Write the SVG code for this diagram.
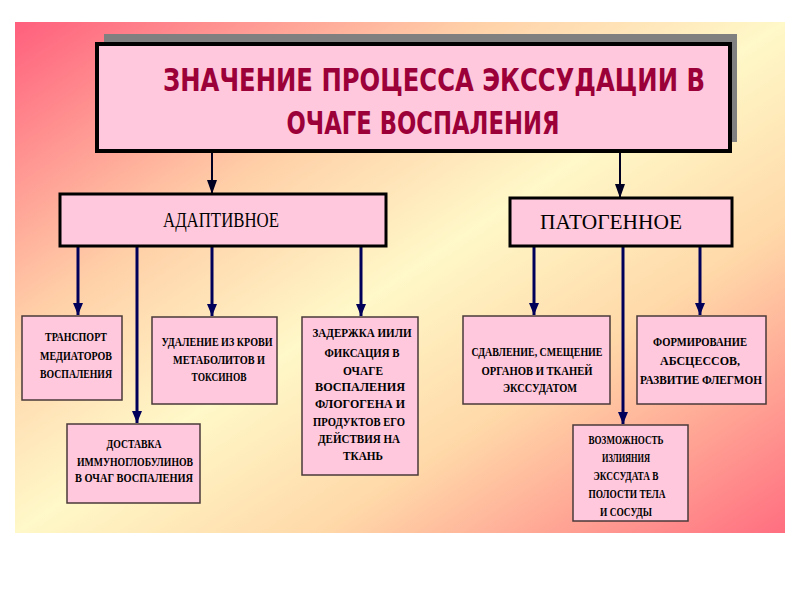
<svg xmlns="http://www.w3.org/2000/svg" width="800" height="600" viewBox="0 0 800 600">
<defs>
<linearGradient id="bg" x1="0" y1="0" x2="1" y2="1">
<stop offset="0" stop-color="#ff5f7d"/>
<stop offset="0.3" stop-color="#ffd0a8"/>
<stop offset="0.5" stop-color="#fff8c8"/>
<stop offset="0.7" stop-color="#ffd8a8"/>
<stop offset="1" stop-color="#ff6e80"/>
</linearGradient>
<marker id="ah" viewBox="0 0 14 10" refX="14" refY="5" markerWidth="14" markerHeight="10" markerUnits="userSpaceOnUse" orient="auto">
<path d="M0,0 L14,5 L0,10 Z" fill="#000022"/>
</marker>
<marker id="ah2" viewBox="0 0 12 10" refX="12" refY="5" markerWidth="12" markerHeight="10" markerUnits="userSpaceOnUse" orient="auto">
<path d="M0,0 L12,5 L0,10 Z" fill="#00005a"/>
</marker>
</defs>
<style>
.big{fill:#ffc8dc;stroke:#000;stroke-width:4}
.mid{fill:#ffc8dc;stroke:#000;stroke-width:3}
.box{fill:#ffc8dc;stroke:#4a3a3a;stroke-width:1.5}
.title{font-family:"DejaVu Sans Condensed","Liberation Sans",sans-serif;font-stretch:condensed;font-weight:bold;font-size:32px;fill:#9c0038;text-anchor:middle}
.cat{font-family:"Liberation Serif",serif;font-size:20px;fill:#000;text-anchor:middle}
.t{font-family:"Liberation Serif",serif;font-size:13px;font-weight:bold;fill:#000;text-anchor:middle}
.c1{stroke:#000022;stroke-width:2;fill:none}
.c2{stroke:#00005a;stroke-width:3;fill:none}
</style>
<rect x="15" y="22" width="770" height="511" fill="url(#bg)"/>

<g id="connectors">
<line class="c1" x1="212" y1="152" x2="212" y2="194" marker-end="url(#ah)"/>
<line class="c1" x1="620" y1="152" x2="620" y2="198" marker-end="url(#ah)"/>
<line class="c2" x1="78" y1="246" x2="78" y2="315" marker-end="url(#ah2)"/>
<line class="c2" x1="137" y1="246" x2="137" y2="423" marker-end="url(#ah2)"/>
<line class="c2" x1="212" y1="246" x2="212" y2="316" marker-end="url(#ah2)"/>
<line class="c2" x1="361" y1="246" x2="361" y2="316" marker-end="url(#ah2)"/>
<line class="c2" x1="534" y1="246" x2="534" y2="315" marker-end="url(#ah2)"/>
<line class="c2" x1="623" y1="246" x2="623" y2="424" marker-end="url(#ah2)"/>
<line class="c2" x1="700" y1="246" x2="700" y2="315" marker-end="url(#ah2)"/>
</g>

<g id="title">
<rect x="104" y="34" width="633" height="108" fill="#808080"/>
<rect class="big" x="97" y="44" width="633" height="107"/>
<text class="title" x="434" y="91" textLength="542" lengthAdjust="spacingAndGlyphs">ЗНАЧЕНИЕ  ПРОЦЕССА   ЭКССУДАЦИИ  В</text>
<text class="title" x="423" y="134" textLength="273" lengthAdjust="spacingAndGlyphs">ОЧАГЕ  ВОСПАЛЕНИЯ</text>
</g>

<g id="adaptive">
<rect class="mid" x="60" y="194" width="326" height="52"/>
<text class="cat" x="221" y="227" textLength="116" lengthAdjust="spacingAndGlyphs">АДАПТИВНОЕ</text>
</g>

<g id="pathogenic">
<rect class="mid" x="510" y="198" width="222" height="48"/>
<text class="cat" x="611" y="229" textLength="142" lengthAdjust="spacingAndGlyphs">ПАТОГЕННОЕ</text>
</g>

<g id="transport">
<rect class="box" x="22" y="316" width="100" height="84"/>
<text class="t" x="76" y="341" textLength="62" lengthAdjust="spacingAndGlyphs">ТРАНСПОРТ</text>
<text class="t" x="76" y="360" textLength="72" lengthAdjust="spacingAndGlyphs">МЕДИАТОРОВ</text>
<text class="t" x="76" y="378" textLength="72" lengthAdjust="spacingAndGlyphs">ВОСПАЛЕНИЯ</text>
</g>

<g id="removal">
<rect class="box" x="152" y="317" width="125" height="87"/>
<text class="t" x="217" y="346" textLength="111" lengthAdjust="spacingAndGlyphs">УДАЛЕНИЕ ИЗ КРОВИ</text>
<text class="t" x="219" y="364" textLength="92" lengthAdjust="spacingAndGlyphs">МЕТАБОЛИТОВ  И</text>
<text class="t" x="219" y="381" textLength="55" lengthAdjust="spacingAndGlyphs">ТОКСИНОВ</text>
</g>

<g id="delivery">
<rect class="box" x="67" y="424" width="133" height="79"/>
<text class="t" x="134" y="448" textLength="55" lengthAdjust="spacingAndGlyphs">ДОСТАВКА</text>
<text class="t" x="135" y="466" textLength="116" lengthAdjust="spacingAndGlyphs">ИММУНОГЛОБУЛИНОВ</text>
<text class="t" x="134" y="482" textLength="118" lengthAdjust="spacingAndGlyphs">В ОЧАГ  ВОСПАЛЕНИЯ</text>
</g>

<g id="retention">
<rect class="box" x="302" y="317" width="116" height="158"/>
<text class="t" x="362" y="337" textLength="99" lengthAdjust="spacingAndGlyphs">ЗАДЕРЖКА  ИИЛИ</text>
<text class="t" x="362" y="357" textLength="75" lengthAdjust="spacingAndGlyphs">ФИКСАЦИЯ В</text>
<text class="t" x="363" y="375" textLength="40" lengthAdjust="spacingAndGlyphs">ОЧАГЕ</text>
<text class="t" x="360" y="391" textLength="90" lengthAdjust="spacingAndGlyphs">ВОСПАЛЕНИЯ</text>
<text class="t" x="360" y="408" textLength="90" lengthAdjust="spacingAndGlyphs">ФЛОГОГЕНА И</text>
<text class="t" x="359" y="426" textLength="92" lengthAdjust="spacingAndGlyphs">ПРОДУКТОВ ЕГО</text>
<text class="t" x="359" y="443" textLength="82" lengthAdjust="spacingAndGlyphs">ДЕЙСТВИЯ НА</text>
<text class="t" x="363" y="460" textLength="40" lengthAdjust="spacingAndGlyphs">ТКАНЬ</text>
</g>

<g id="compression">
<rect class="box" x="463" y="316" width="147" height="88"/>
<text class="t" x="537" y="356" textLength="131" lengthAdjust="spacingAndGlyphs">СДАВЛЕНИЕ, СМЕЩЕНИЕ</text>
<text class="t" x="537" y="375" textLength="111" lengthAdjust="spacingAndGlyphs">ОРГАНОВ  И  ТКАНЕЙ</text>
<text class="t" x="540" y="392" textLength="74" lengthAdjust="spacingAndGlyphs">ЭКССУДАТОМ</text>
</g>

<g id="abscess">
<rect class="box" x="637" y="316" width="129" height="88"/>
<text class="t" x="700" y="346" textLength="94" lengthAdjust="spacingAndGlyphs">ФОРМИРОВАНИЕ</text>
<text class="t" x="700" y="365" textLength="80" lengthAdjust="spacingAndGlyphs">АБСЦЕССОВ,</text>
<text class="t" x="701" y="384" textLength="122" lengthAdjust="spacingAndGlyphs">РАЗВИТИЕ  ФЛЕГМОН</text>
</g>

<g id="effusion">
<rect class="box" x="573" y="425" width="115" height="96"/>
<text class="t" x="626" y="444" textLength="75" lengthAdjust="spacingAndGlyphs">ВОЗМОЖНОСТЬ</text>
<text class="t" x="626" y="462" textLength="48" lengthAdjust="spacingAndGlyphs">ИЗЛИЯНИЯ</text>
<text class="t" x="626" y="480" textLength="65" lengthAdjust="spacingAndGlyphs">ЭКССУДАТА В</text>
<text class="t" x="627" y="498" textLength="77" lengthAdjust="spacingAndGlyphs">ПОЛОСТИ ТЕЛА</text>
<text class="t" x="626" y="516" textLength="52" lengthAdjust="spacingAndGlyphs">И СОСУДЫ</text>
</g>
</svg>
